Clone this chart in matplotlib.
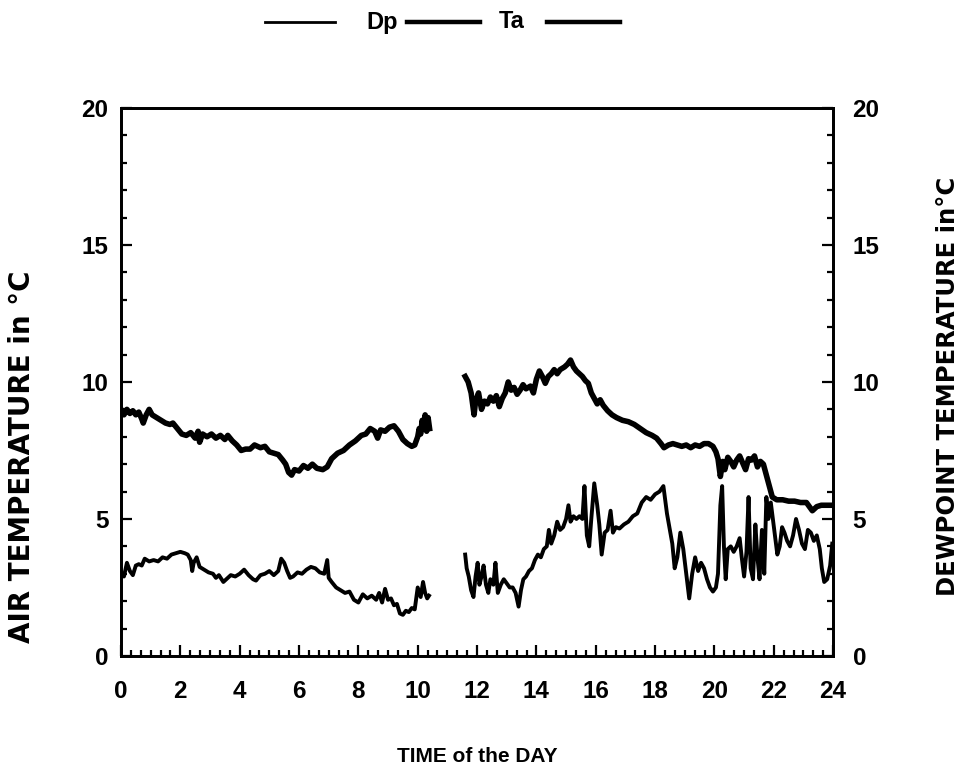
import numpy as np
import matplotlib
matplotlib.use("Agg")
import matplotlib.pyplot as plt
from matplotlib.lines import Line2D
from matplotlib.ticker import MultipleLocator

plt.rcParams["font.family"] = ["Liberation Sans", "DejaVu Sans"]
plt.rcParams["font.weight"] = "bold"

# (hour, air temperature) before and after the logger gap
ta_morning = [
    (0.00, 9.00), (0.10, 8.80), (0.20, 9.00), (0.30, 8.85), (0.40, 8.95), (0.50, 8.80),
    (0.60, 8.90), (0.70, 8.65), (0.75, 8.50), (0.85, 8.80), (0.95, 9.00), (1.05, 8.80),
    (1.20, 8.70), (1.35, 8.60), (1.50, 8.50), (1.65, 8.45), (1.75, 8.50), (1.90, 8.30),
    (2.05, 8.10), (2.20, 8.05), (2.35, 8.15), (2.50, 7.95), (2.60, 8.20), (2.65, 7.80),
    (2.75, 8.10), (2.90, 8.00), (3.05, 8.10), (3.20, 7.95), (3.35, 8.05), (3.50, 7.90),
    (3.60, 8.05), (3.75, 7.85), (3.90, 7.70), (4.05, 7.50), (4.20, 7.55), (4.35, 7.55),
    (4.50, 7.70), (4.70, 7.60), (4.85, 7.65), (5.00, 7.45), (5.15, 7.40), (5.30, 7.35),
    (5.45, 7.15), (5.55, 7.00), (5.65, 6.70), (5.75, 6.60), (5.85, 6.80), (6.00, 6.75),
    (6.15, 6.95), (6.30, 6.85), (6.45, 7.00), (6.60, 6.85), (6.80, 6.80), (6.95, 6.90),
    (7.10, 7.20), (7.30, 7.40), (7.50, 7.50), (7.70, 7.70), (7.90, 7.85), (8.10, 8.05),
    (8.25, 8.10), (8.40, 8.30), (8.55, 8.20), (8.65, 7.95), (8.75, 8.25), (8.90, 8.20),
    (9.05, 8.35), (9.20, 8.40), (9.35, 8.20), (9.50, 7.90), (9.65, 7.75), (9.80, 7.65),
    (9.90, 7.70), (10.00, 8.00), (10.05, 8.30), (10.10, 8.10), (10.15, 8.60), (10.20, 8.30),
    (10.25, 8.80), (10.30, 8.20), (10.35, 8.70), (10.40, 8.30),
]
ta_afternoon = [
    (11.60, 10.20), (11.70, 10.00), (11.80, 9.60), (11.90, 8.80), (11.95, 9.30), (12.05, 9.60),
    (12.15, 9.00), (12.25, 9.30), (12.35, 9.20), (12.45, 9.45), (12.55, 9.30), (12.65, 9.50),
    (12.75, 9.10), (12.85, 9.40), (12.95, 9.60), (13.05, 10.00), (13.15, 9.70), (13.25, 9.80),
    (13.35, 9.55), (13.45, 9.70), (13.55, 9.90), (13.65, 9.75), (13.80, 9.85), (13.90, 9.60),
    (14.00, 10.10), (14.10, 10.40), (14.20, 10.20), (14.30, 9.95), (14.40, 10.20), (14.50, 10.30),
    (14.60, 10.45), (14.70, 10.30), (14.80, 10.45), (14.95, 10.55), (15.05, 10.65), (15.15, 10.80),
    (15.25, 10.55), (15.35, 10.40), (15.45, 10.30), (15.55, 10.20), (15.65, 10.05), (15.75, 9.95),
    (15.85, 9.60), (15.95, 9.40), (16.05, 9.20), (16.15, 9.35), (16.25, 9.15), (16.40, 8.95),
    (16.55, 8.80), (16.70, 8.70), (16.90, 8.60), (17.10, 8.55), (17.30, 8.45), (17.50, 8.30),
    (17.70, 8.15), (17.90, 8.05), (18.05, 7.95), (18.20, 7.75), (18.30, 7.60), (18.45, 7.70),
    (18.60, 7.75), (18.75, 7.70), (18.90, 7.65), (19.05, 7.70), (19.20, 7.60), (19.35, 7.70),
    (19.50, 7.65), (19.65, 7.75), (19.80, 7.75), (19.95, 7.65), (20.05, 7.45), (20.12, 7.20),
    (20.20, 6.55), (20.28, 7.10), (20.35, 6.80), (20.45, 7.25), (20.55, 7.10), (20.65, 6.90),
    (20.75, 7.15), (20.85, 7.30), (20.95, 7.05), (21.05, 6.80), (21.15, 7.20), (21.25, 7.15),
    (21.35, 7.30), (21.45, 6.90), (21.55, 7.10), (21.65, 7.00), (21.75, 6.60), (21.85, 6.20),
    (21.95, 5.80), (22.10, 5.70), (22.30, 5.70), (22.50, 5.65), (22.70, 5.65), (22.90, 5.60),
    (23.10, 5.60), (23.20, 5.45), (23.30, 5.30), (23.45, 5.45), (23.60, 5.50), (23.80, 5.50),
    (24.00, 5.50),
]

# (hour, dewpoint temperature)
dp_morning = [
    (0.00, 3.05), (0.10, 2.90), (0.20, 3.40), (0.30, 3.10), (0.40, 2.95), (0.50, 3.30),
    (0.60, 3.35), (0.70, 3.30), (0.80, 3.55), (0.95, 3.45), (1.10, 3.50), (1.25, 3.45),
    (1.40, 3.60), (1.55, 3.55), (1.70, 3.70), (1.85, 3.75), (2.00, 3.80), (2.15, 3.75),
    (2.25, 3.70), (2.35, 3.50), (2.40, 3.10), (2.45, 3.40), (2.55, 3.60), (2.65, 3.25),
    (2.80, 3.15), (2.95, 3.05), (3.10, 3.00), (3.20, 2.85), (3.30, 2.95), (3.45, 2.70),
    (3.55, 2.80), (3.70, 2.95), (3.85, 2.90), (4.00, 3.00), (4.15, 3.15), (4.30, 2.95),
    (4.45, 2.80), (4.55, 2.75), (4.70, 2.95), (4.85, 3.00), (5.00, 3.10), (5.15, 2.95),
    (5.30, 3.10), (5.40, 3.55), (5.50, 3.40), (5.60, 3.10), (5.70, 2.85), (5.80, 2.90),
    (5.95, 3.05), (6.10, 3.00), (6.25, 3.15), (6.40, 3.25), (6.55, 3.20), (6.70, 3.05),
    (6.85, 3.00), (6.95, 3.50), (7.00, 2.85), (7.10, 2.70), (7.25, 2.50), (7.40, 2.40),
    (7.55, 2.30), (7.70, 2.35), (7.85, 2.05), (8.00, 1.95), (8.15, 2.25), (8.30, 2.10),
    (8.45, 2.20), (8.60, 2.05), (8.70, 2.30), (8.80, 1.95), (8.90, 2.45), (9.00, 2.05),
    (9.10, 2.10), (9.20, 1.85), (9.30, 1.90), (9.40, 1.55), (9.50, 1.50), (9.60, 1.65),
    (9.70, 1.60), (9.80, 1.75), (9.90, 1.70), (10.00, 2.50), (10.10, 2.15), (10.18, 2.70),
    (10.25, 2.30), (10.32, 2.10), (10.38, 2.20),
]
dp_afternoon = [
    (11.60, 3.70), (11.65, 3.20), (11.72, 2.90), (11.80, 2.40), (11.88, 2.15), (11.95, 2.90),
    (12.02, 3.40), (12.08, 2.60), (12.15, 2.90), (12.22, 3.30), (12.30, 2.60), (12.38, 2.30),
    (12.45, 2.80), (12.55, 2.60), (12.62, 3.40), (12.70, 2.30), (12.80, 2.60), (12.90, 2.80),
    (13.00, 2.65), (13.10, 2.50), (13.20, 2.50), (13.30, 2.30), (13.40, 1.80), (13.48, 2.40),
    (13.56, 2.80), (13.65, 2.90), (13.75, 3.10), (13.85, 3.20), (13.95, 3.50), (14.05, 3.70),
    (14.15, 3.60), (14.25, 3.90), (14.35, 4.00), (14.42, 4.60), (14.50, 4.10), (14.60, 4.40),
    (14.70, 4.90), (14.80, 4.60), (14.90, 4.70), (15.00, 5.00), (15.08, 5.50), (15.15, 4.90),
    (15.25, 5.10), (15.35, 5.00), (15.45, 5.10), (15.55, 5.00), (15.62, 6.20), (15.70, 4.40),
    (15.78, 4.00), (15.85, 5.00), (15.95, 6.30), (16.05, 5.50), (16.12, 4.80), (16.20, 3.70),
    (16.30, 4.50), (16.40, 4.60), (16.50, 5.30), (16.58, 4.50), (16.68, 4.70), (16.80, 4.65),
    (16.95, 4.80), (17.10, 4.90), (17.25, 5.10), (17.40, 5.20), (17.55, 5.60), (17.70, 5.80),
    (17.85, 5.70), (18.00, 5.90), (18.15, 6.00), (18.28, 6.20), (18.40, 5.20), (18.50, 4.60),
    (18.58, 4.10), (18.66, 3.20), (18.75, 3.60), (18.85, 4.50), (18.95, 3.90), (19.05, 3.00),
    (19.15, 2.10), (19.25, 3.00), (19.35, 3.60), (19.45, 3.10), (19.55, 3.40), (19.65, 3.20),
    (19.75, 2.80), (19.85, 2.50), (19.95, 2.35), (20.05, 2.50), (20.12, 3.00), (20.20, 5.50),
    (20.26, 6.20), (20.32, 4.00), (20.38, 2.80), (20.45, 3.90), (20.55, 4.00), (20.65, 3.80),
    (20.75, 4.00), (20.85, 4.30), (20.92, 3.60), (21.00, 2.90), (21.08, 3.80), (21.15, 5.80),
    (21.22, 3.20), (21.30, 2.80), (21.38, 4.80), (21.45, 3.60), (21.52, 2.80), (21.60, 4.60),
    (21.68, 3.00), (21.75, 5.80), (21.82, 5.00), (21.90, 5.60), (21.98, 4.90), (22.05, 4.30),
    (22.12, 3.70), (22.20, 4.00), (22.28, 4.70), (22.36, 4.50), (22.45, 4.20), (22.55, 4.00),
    (22.65, 4.40), (22.75, 5.00), (22.85, 4.60), (22.95, 4.10), (23.05, 3.90), (23.15, 4.60),
    (23.25, 4.50), (23.35, 4.20), (23.45, 4.40), (23.55, 3.90), (23.62, 3.20), (23.70, 2.70),
    (23.80, 2.80), (23.90, 3.30), (23.97, 4.10),
]

x_ticks = list(range(0, 25, 2))
y_ticks = [0, 5, 10, 15, 20]

fig = plt.figure(figsize=(9.71, 7.69), dpi=100)
ax = fig.add_axes([0.1246, 0.147, 0.7334, 0.7126])

for seg in (ta_morning, ta_afternoon):
    t, v = np.array(seg).T
    ax.plot(t, v, color="black", lw=4.0, solid_joinstyle="round")
for seg in (dp_morning, dp_afternoon):
    t, v = np.array(seg).T
    ax.plot(t, v, color="black", lw=2.8, solid_joinstyle="round")

ax.set_xlim(0, 24)
ax.set_ylim(0, 20)
ax.set_xticks(x_ticks)
ax.set_yticks(y_ticks)
ax.xaxis.set_minor_locator(MultipleLocator(1 / 3))
ax.yaxis.set_minor_locator(MultipleLocator(1))

for s in ax.spines.values():
    s.set_linewidth(2)

ax.tick_params(which="both", direction="in", width=1.6, labelsize=17.5,
               top=False, right=False)
ax.tick_params(which="major", length=8)
ax.tick_params(which="minor", length=4)
ax.tick_params(axis="x", pad=17)
ax.tick_params(axis="y", pad=9)

# dewpoint scale on the right side
ax2 = ax.twinx()
ax2.set_ylim(0, 20)
ax2.set_yticks(y_ticks)
ax2.yaxis.set_minor_locator(MultipleLocator(1))
ax2.tick_params(which="both", direction="in", width=1.6, labelsize=17.5, pad=14)
ax2.tick_params(which="major", length=8)
ax2.tick_params(which="minor", length=4)
for s in ax2.spines.values():
    s.set_linewidth(2)

for lab in ax.get_xticklabels() + ax.get_yticklabels() + ax2.get_yticklabels():
    lab.set_fontweight("bold")

fig.text(0.492, 12 / 769, "TIME of the DAY", ha="center", va="center",
         fontsize=15, fontweight="bold")
fig.text(0.023, 1 - 457 / 769, "AIR TEMPERATURE in °C", rotation=90, ha="center",
         va="center", fontsize=20, fontweight="bold", family="DejaVu Sans")
fig.text(0.976, 1 - 386 / 769, "DEWPOINT TEMPERATURE in°C", rotation=90, ha="center",
         va="center", fontsize=17.5, fontweight="bold", family="DejaVu Sans")

# legend strip across the top
ly = 1 - 22 / 769
for x0, x1, w in [(265, 335, 2.0), (407, 480, 3.2), (547, 620, 3.2)]:
    fig.add_artist(Line2D([x0 / 971, x1 / 971], [ly, ly], color="black", lw=w,
                          transform=fig.transFigure))
fig.text(382 / 971, ly, "Dp", ha="center", va="center", fontsize=17, fontweight="bold")
fig.text(512 / 971, ly, "Ta", ha="center", va="center", fontsize=17, fontweight="bold")

fig.savefig("out.png", dpi=100)
